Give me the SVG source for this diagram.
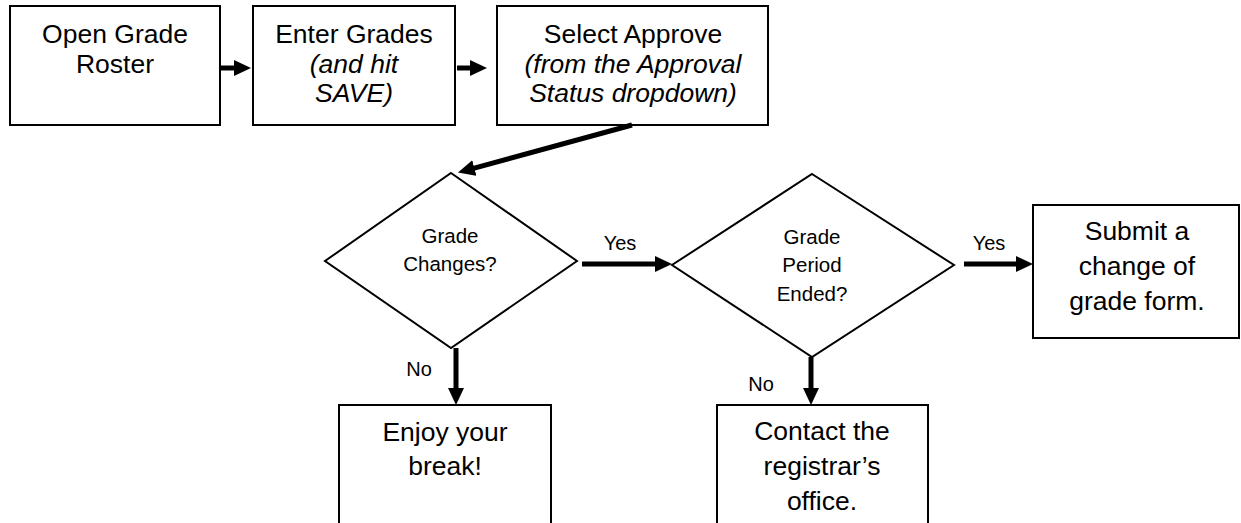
<svg xmlns="http://www.w3.org/2000/svg" width="1241" height="523" viewBox="0 0 1241 523">
<style>
.box{fill:#fff;stroke:#000;stroke-width:2}
.dia{fill:#fff;stroke:#000;stroke-width:2}
.t{font-family:"Liberation Sans",Arial,sans-serif;font-size:26.5px;fill:#000;text-anchor:middle}
.i{font-style:italic}
.d{font-family:"Liberation Sans",Arial,sans-serif;font-size:20.5px;fill:#000;text-anchor:middle}
.lbl{font-family:"Liberation Sans",Arial,sans-serif;font-size:20px;fill:#000;text-anchor:middle}
.c{fill:none;stroke:#000;stroke-width:5}
</style>
<defs>
<marker id="ah" markerUnits="userSpaceOnUse" markerWidth="18" markerHeight="17" refX="1" refY="8" orient="auto" viewBox="0 0 18 16">
<path d="M0,0 L17,8 L0,16 z" fill="#000"/>
</marker>
</defs>
<rect width="1241" height="523" fill="#fff"/>
<g id="open-roster">
<rect class="box" x="10" y="6" width="210" height="119"/>
<text class="t" x="115" y="43">Open Grade</text>
<text class="t" x="115" y="73">Roster</text>
</g>
<g id="enter-grades">
<rect class="box" x="253" y="6" width="202" height="119"/>
<text class="t" x="354" y="43">Enter Grades</text>
<text class="t i" x="354" y="73">(and hit</text>
<text class="t i" x="354" y="102">SAVE)</text>
</g>
<g id="select-approve">
<rect class="box" x="497" y="6" width="271" height="119"/>
<text class="t" x="633" y="43">Select Approve</text>
<text class="t i" x="633" y="73">(from the Approval</text>
<text class="t i" x="633" y="102">Status dropdown)</text>
</g>
<g id="grade-changes">
<polygon class="dia" points="451,173 577,261 451,348 325,261"/>
<text class="d" x="450" y="243">Grade</text>
<text class="d" x="450" y="271">Changes?</text>
</g>
<g id="period-ended">
<polygon class="dia" points="812,174 954,265 812,357 672,265"/>
<text class="d" x="812" y="244">Grade</text>
<text class="d" x="812" y="272">Period</text>
<text class="d" x="812" y="301">Ended?</text>
</g>
<g id="submit-form">
<rect class="box" x="1033" y="205" width="206" height="133"/>
<text class="t" x="1137" y="240">Submit a</text>
<text class="t" x="1137" y="275">change of</text>
<text class="t" x="1137" y="310">grade form.</text>
</g>
<g id="enjoy-break">
<rect class="box" x="339" y="405" width="212" height="130"/>
<text class="t" x="445" y="441">Enjoy your</text>
<text class="t" x="445" y="475">break!</text>
</g>
<g id="contact-registrar">
<rect class="box" x="717" y="405" width="211" height="130"/>
<text class="t" x="822" y="440">Contact the</text>
<text class="t" x="822" y="475">registrar’s</text>
<text class="t" x="822" y="510">office.</text>
</g>
<g id="connectors">
<line class="c" x1="220" y1="68" x2="235" y2="68" marker-end="url(#ah)"/>
<line class="c" x1="457" y1="68" x2="471" y2="68" marker-end="url(#ah)"/>
<line class="c" x1="632" y1="125" x2="473.4" y2="168.3" marker-end="url(#ah)"/>
<line class="c" x1="582" y1="264" x2="656" y2="264" marker-end="url(#ah)"/>
<line class="c" x1="964" y1="264" x2="1017" y2="264" marker-end="url(#ah)"/>
<line class="c" x1="456" y1="348" x2="456" y2="389" marker-end="url(#ah)"/>
<line class="c" x1="811" y1="357" x2="811" y2="389" marker-end="url(#ah)"/>
<text class="lbl" x="620" y="250">Yes</text>
<text class="lbl" x="989" y="250">Yes</text>
<text class="lbl" x="419" y="376">No</text>
<text class="lbl" x="761" y="391">No</text>
</g>
</svg>
